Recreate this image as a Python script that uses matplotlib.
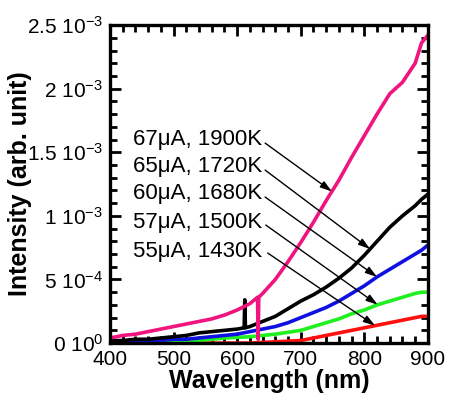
import numpy as np
import matplotlib
matplotlib.use('Agg')
import matplotlib.pyplot as plt
from matplotlib.ticker import MultipleLocator, FuncFormatter

plt.rcParams['font.family'] = ['Liberation Sans', 'DejaVu Sans']
plt.rcParams['mathtext.fontset'] = 'custom'
plt.rcParams['mathtext.rm'] = 'Liberation Sans'
plt.rcParams['mathtext.it'] = 'Liberation Sans:italic'
plt.rcParams['mathtext.bf'] = 'Liberation Sans:bold'

# 波长 (nm)
wl = [400, 420, 440, 460, 480, 500, 520, 540, 560, 580, 600, 620, 640, 660,
      680, 700, 720, 740, 760, 780, 800, 820, 840, 860, 880, 890, 900]

# 强度, 单位 1e-3
i67 = [0.04, 0.06, 0.07, 0.09, 0.11, 0.13, 0.15, 0.17, 0.19, 0.22, 0.26, 0.31,
       0.39, 0.50, 0.64, 0.79, 0.95, 1.12, 1.28, 1.46, 1.63, 1.80, 1.96, 2.05,
       2.20, 2.36, 2.42]
i65 = [0.02, 0.02, 0.03, 0.03, 0.04, 0.05, 0.06, 0.08, 0.09, 0.10, 0.11, 0.13,
       0.17, 0.21, 0.27, 0.33, 0.38, 0.44, 0.51, 0.59, 0.69, 0.80, 0.91, 1.00,
       1.08, 1.13, 1.17]
i60 = [0.01, 0.01, 0.01, 0.02, 0.02, 0.03, 0.03, 0.04, 0.05, 0.06, 0.07, 0.09,
       0.11, 0.13, 0.16, 0.20, 0.24, 0.28, 0.33, 0.39, 0.45, 0.52, 0.58, 0.64,
       0.70, 0.73, 0.77]
i57 = [0.0, 0.0, 0.0, 0.01, 0.01, 0.01, 0.02, 0.02, 0.03, 0.04, 0.045, 0.05,
       0.06, 0.07, 0.085, 0.10, 0.13, 0.16, 0.19, 0.23, 0.26, 0.30, 0.33, 0.36,
       0.39, 0.40, 0.40]
i55 = [0.0, 0.0, 0.0, 0.0, 0.0, 0.0, 0.0, 0.0, 0.0, 0.0, 0.0, 0.0,
       0.005, 0.01, 0.015, 0.02, 0.04, 0.06, 0.08, 0.10, 0.12, 0.14, 0.16, 0.18,
       0.20, 0.21, 0.21]

# 尖峰 (光栅切换处)
spike67_wl = [632, 633, 634]
spike67 = [0.36, 0.03, 0.36]
spike65_wl = [611, 612, 613]
spike65 = [0.12, 0.34, 0.12]

labels = ['67\u03bcA, 1900K', '65\u03bcA, 1720K', '60\u03bcA, 1680K',
          '57\u03bcA, 1500K', '55\u03bcA, 1430K']
arrow_wl = [749, 809, 820, 821, 817]


def merge(x, y, sx, sy):
    xx = np.array(list(x) + list(sx), dtype=float)
    yy = np.array(list(y) + list(sy), dtype=float)
    o = np.argsort(xx, kind='stable')
    return xx[o], yy[o]


w67, y67 = merge(wl, i67, spike67_wl, spike67)
w65, y65 = merge(wl, i65, spike65_wl, spike65)

fig = plt.figure(figsize=(4.49, 3.98), dpi=100)
ax = fig.add_axes([0.245, 0.138, 0.708, 0.799])

lw = 2.6
ax.plot(wl, np.array(i55) * 1e-3, color='#ff1010', lw=lw)
ax.plot(wl, np.array(i57) * 1e-3, color='#20f020', lw=lw)
ax.plot(wl, np.array(i60) * 1e-3, color='#1010e0', lw=lw)
ax.plot(w65, y65 * 1e-3, color='black', lw=lw)
ax.plot(w67, y67 * 1e-3, color='#f0147f', lw=lw)

ax.set_xlim(400, 900)
ax.set_ylim(0, 2.5e-3)

# 注释
curves = [(wl, i67), (wl, i65), (wl, i60), (wl, i57), (wl, i55)]
text_y = [1.604e-3, 1.392e-3, 1.179e-3, 0.951e-3, 0.723e-3]
start_x = [644, 644, 644, 645, 648]
start_y = [1.572e-3, 1.360e-3, 1.148e-3, 0.928e-3, 0.708e-3]
for k in range(5):
    ax.text(436, text_y[k], labels[k], fontsize=16, ha='left', va='center')
    ex = arrow_wl[k]
    ey = np.interp(ex, curves[k][0], curves[k][1]) * 1e-3
    ax.annotate('', xy=(ex, ey), xytext=(start_x[k], start_y[k]),
                arrowprops=dict(arrowstyle='-|>,head_length=0.7,head_width=0.22',
                                color='black', lw=1, shrinkA=0, shrinkB=0))


def yfmt(v, pos):
    if abs(v) < 1e-12:
        return r'0 10$^{0}$'
    e = int(np.floor(np.log10(abs(v)) + 1e-9))
    m = v / 10 ** e
    ms = ('%.1f' % m).rstrip('0').rstrip('.')
    return ms + r' 10$^{%d}$' % e


ax.xaxis.set_major_locator(MultipleLocator(100))
ax.xaxis.set_minor_locator(MultipleLocator(20))
ax.yaxis.set_major_locator(MultipleLocator(5e-4))
ax.yaxis.set_minor_locator(MultipleLocator(1e-4))
ax.yaxis.set_major_formatter(FuncFormatter(yfmt))

ax.tick_params(which='both', direction='in', top=True, right=True, width=2,
               labelsize=15, pad=5)
ax.tick_params(which='major', length=8)
ax.tick_params(which='minor', length=5)
for s in ax.spines.values():
    s.set_linewidth(2.4)

ax.set_xlabel('Wavelength (nm)', fontsize=18, fontweight='bold', labelpad=0)
ax.set_ylabel('Intensity (arb. unit)', fontsize=18, fontweight='bold', labelpad=-4)

fig.savefig('out.png', dpi=100)
